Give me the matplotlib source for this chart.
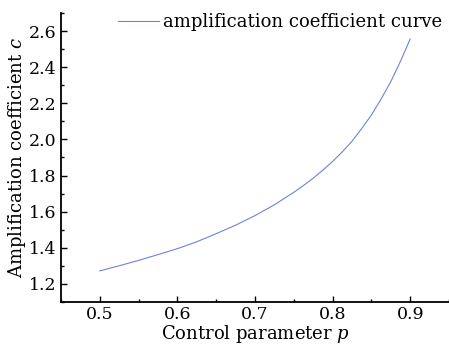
import numpy as np
import matplotlib
matplotlib.use('Agg')
import matplotlib.pyplot as plt
from matplotlib.ticker import MultipleLocator

# values
p_vals = [0.500, 0.525, 0.550, 0.575, 0.600, 0.625, 0.650, 0.675, 0.700,
          0.725, 0.750, 0.7625, 0.775, 0.7875, 0.800, 0.8125, 0.825, 0.8375,
          0.850, 0.8625, 0.875, 0.8875, 0.900]
c_vals = [1.272, 1.300, 1.330, 1.362, 1.395, 1.433, 1.478, 1.525, 1.578,
          1.638, 1.707, 1.745, 1.785, 1.830, 1.878, 1.931, 1.990, 2.060,
          2.135, 2.224, 2.320, 2.433, 2.556]
x_ticks = [0.5, 0.6, 0.7, 0.8, 0.9]
y_ticks = [1.2, 1.4, 1.6, 1.8, 2.0, 2.2, 2.4, 2.6]

plt.rcParams['font.family'] = 'DejaVu Serif'
plt.rcParams['mathtext.fontset'] = 'dejavuserif'

fig = plt.figure(figsize=(4.49, 3.47), dpi=100)
ax = fig.add_axes([0.136, 0.13, 0.864, 0.8325])

ax.plot(p_vals, c_vals, color='#6f82db', lw=0.8, label='amplification coefficient curve')

ax.set_xlim(0.45, 0.95)
ax.set_ylim(1.1, 2.7)
ax.set_xticks(x_ticks)
ax.set_yticks(y_ticks)
ax.set_xticklabels(['%.1f' % v for v in x_ticks])
ax.set_yticklabels(['%.1f' % v for v in y_ticks])
ax.xaxis.set_minor_locator(MultipleLocator(0.05))
ax.yaxis.set_minor_locator(MultipleLocator(0.1))

ax.spines['top'].set_visible(False)
ax.spines['right'].set_visible(False)
ax.spines['left'].set_linewidth(1.3)
ax.spines['bottom'].set_linewidth(1.3)
ax.tick_params(which='major', direction='in', length=4, width=1, labelsize=12.5, pad=3)
ax.tick_params(which='minor', direction='in', length=2.5, width=1)

ax.set_xlabel('Control parameter $p$', fontsize=13, labelpad=0)
ax.set_ylabel('Amplification coefficient $c$', fontsize=13, labelpad=1)

ax.legend(loc='upper right', frameon=False, fontsize=13, handlelength=2.3,
          handletextpad=0.2, borderaxespad=0.0, bbox_to_anchor=(1.0, 1.025))

fig.savefig('out.png', dpi=100)
